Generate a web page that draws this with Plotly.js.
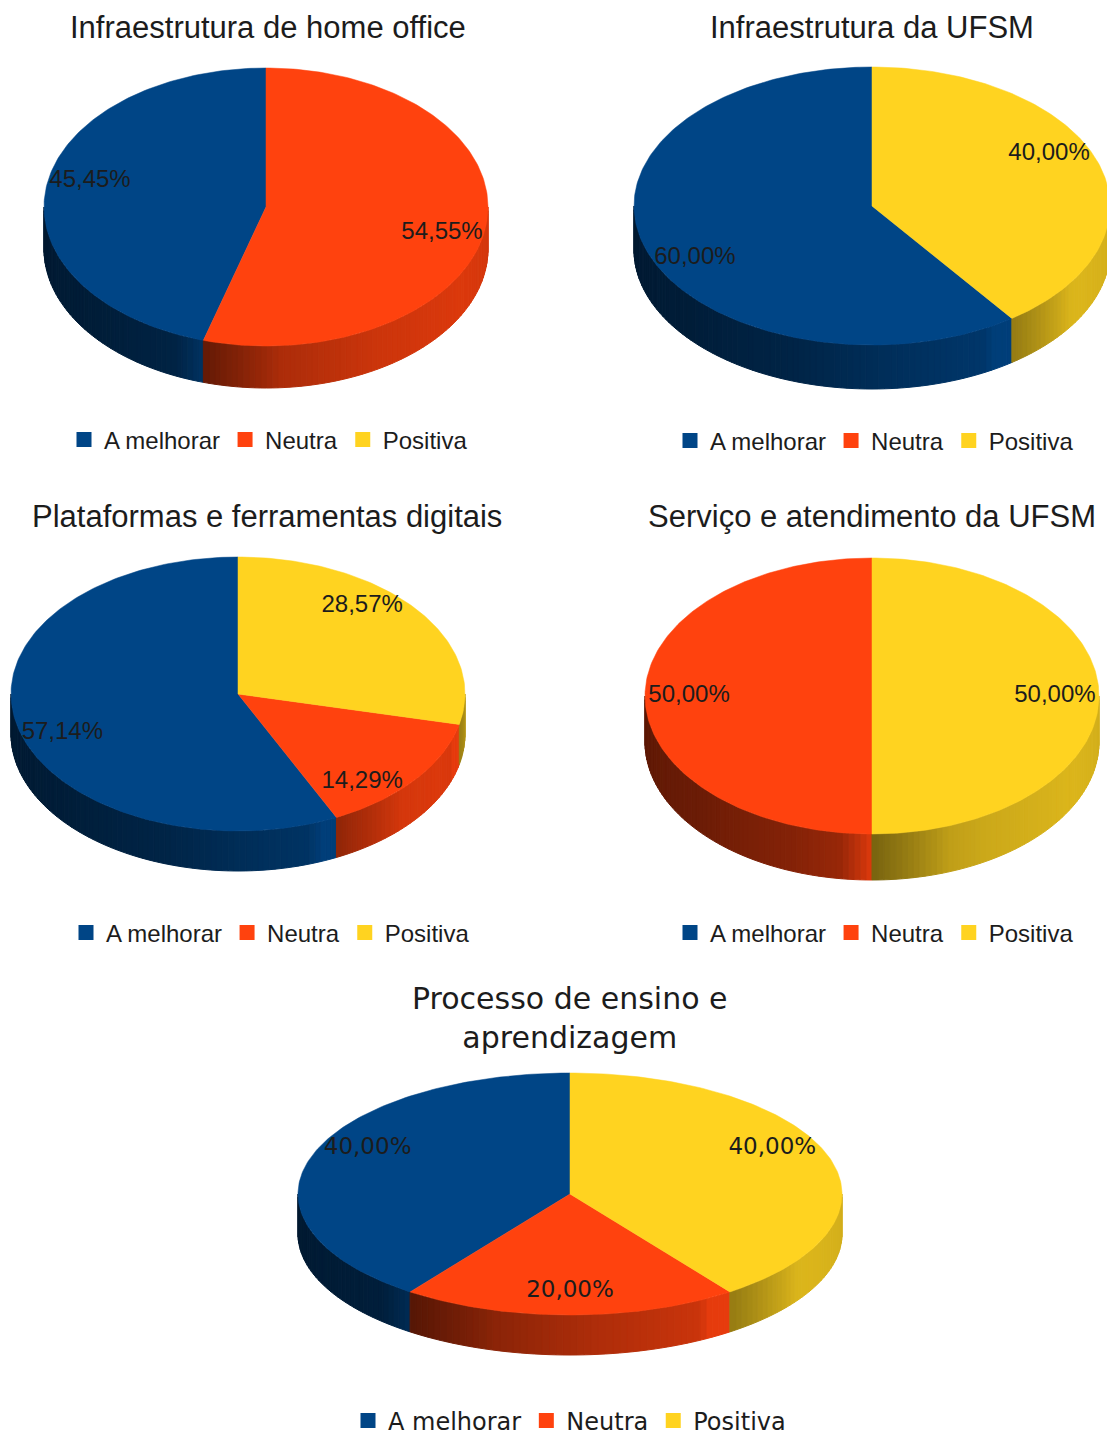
<!DOCTYPE html>
<html>
<head>
<meta charset="utf-8">
<script src="https://cdn.plot.ly/plotly-3.0.1.min.js"></script>
<style>
html,body{margin:0;padding:0;background:#fff;width:1107px;height:1437px;overflow:hidden;}
#chart{position:absolute;left:0;top:0;width:1107px;height:1437px;}
</style>
</head>
<body>
<div id="chart"></div>
<script>
// ---------------- DATA ----------------
const categories = ['A melhorar', 'Neutra', 'Positiva'];
const chartTitles = [
  'Infraestrutura de home office',
  'Infraestrutura da UFSM',
  'Plataformas e ferramentas digitais',
  'Serviço e atendimento da UFSM',
  'Processo de ensino e<br>aprendizagem'
];
const valuesHomeOffice   = [45.45, 54.55, 0];
const valuesInfraUFSM    = [60.00, 0, 40.00];
const valuesPlataformas  = [57.14, 14.29, 28.57];
const valuesServico      = [0, 50.00, 50.00];
const valuesEnsino       = [40.00, 20.00, 40.00];

// ---------------- STYLE / LAYOUT ----------------
const colors = ['#004586', '#ff420e', '#ffd320'];
const geom = [
  {cx: 266, cy: 207, rx: 222, ry: 139, depth: 42, font: 'Liberation Sans', titleSize: 31, titleY: 27,   legX: 64,  legY: 440,  labelSize: 24},
  {cx: 872, cy: 206, rx: 238, ry: 139, depth: 44, font: 'Liberation Sans', titleSize: 31, titleY: 27,   legX: 670, legY: 441,  labelSize: 24},
  {cx: 238, cy: 694, rx: 227, ry: 137, depth: 40, font: 'Liberation Sans', titleSize: 31, titleY: 516,  legX: 66,  legY: 933,  labelSize: 24},
  {cx: 872, cy: 696, rx: 227, ry: 138, depth: 46, font: 'Liberation Sans', titleSize: 31, titleY: 516,  legX: 670, legY: 933,  labelSize: 24},
  {cx: 570, cy: 1194, rx: 272, ry: 121, depth: 40, font: 'DejaVu Sans',   titleSize: 30, titleY: 1018, legX: 348, legY: 1421, labelSize: 23}
];
const titleX = [268, 872, 267, 872, 570];
const allValues = [valuesHomeOffice, valuesInfraUFSM, valuesPlataformas, valuesServico, valuesEnsino];
const W = 1107, H = 1437;
const textColor = '#1c1c1c';

function hexToRgb(h) { return [parseInt(h.substr(1,2),16), parseInt(h.substr(3,2),16), parseInt(h.substr(5,2),16)]; }
function shadeColor(h, f) {
  const c = hexToRgb(h).map(v => Math.max(0, Math.min(255, Math.round(v * f))));
  return 'rgb(' + c.join(',') + ')';
}
// global lighting over the visible wall (angle clockwise from top)
const lightPts = [[90, 0.82], [120, 0.86], [150, 0.80], [175, 0.68], [200, 0.52], [230, 0.42], [270, 0.36]];
function light(t) {
  for (let i = 0; i < lightPts.length - 1; i++) {
    const [a, fa] = lightPts[i], [b, fb] = lightPts[i + 1];
    if (t >= a && t <= b) return fa + (fb - fa) * (t - a) / (b - a);
  }
  return 0.5;
}
const rad = d => d * Math.PI / 180;

const sideTraces = [], topTraces = [], labelTraces = [], legendTraces = [];
const annotations = [];

allValues.forEach((vals, k) => {
  const g = geom[k];
  const px = t => g.cx + g.rx * Math.sin(rad(t));
  const py = t => g.cy - g.ry * Math.cos(rad(t));
  let cum = 0;
  const lx = [], ly = [], lt = [];
  vals.forEach((v, i) => {
    const a1 = 360 - cum * 3.6;
    cum += v;
    const a0 = 360 - cum * 3.6;
    if (v <= 0) return;
    // top surface
    const xs = [g.cx], ys = [g.cy];
    const n = Math.max(2, Math.ceil(a1 - a0));
    for (let j = 0; j <= n; j++) {
      const t = a0 + (a1 - a0) * j / n;
      xs.push(px(t)); ys.push(py(t));
    }
    xs.push(g.cx); ys.push(g.cy);
    topTraces.push({
      type: 'scatter', mode: 'lines', x: xs, y: ys, fill: 'toself',
      fillcolor: colors[i], line: {color: colors[i], width: 0.5},
      hoverinfo: 'skip', showlegend: false
    });
    // side wall (front half only)
    const s0 = Math.max(a0, 90), s1 = Math.min(a1, 270);
    if (s1 > s0) {
      const m = Math.max(1, Math.ceil((s1 - s0) / 1.5));
      for (let j = 0; j < m; j++) {
        const t0 = s0 + (s1 - s0) * j / m, t1 = s0 + (s1 - s0) * (j + 1) / m;
        const tm = (t0 + t1) / 2;
        let f = light(tm);
        if (a1 < 270) { const d = a1 - tm; f *= 0.72 + 0.28 * Math.min(1, d / 20); }
        if (a0 > 90) { const d2 = tm - a0; if (d2 < 8) f = Math.min(0.9, f * (1 + 0.35 * (1 - d2 / 8))); }
        const col = shadeColor(colors[i], f);
        const sx = [px(t0), px(t1), px(t1), px(t0), px(t0)];
        const sy = [py(t0), py(t1), py(t1) + g.depth, py(t0) + g.depth, py(t0)];
        sideTraces.push({
          type: 'scatter', mode: 'lines', x: sx, y: sy, fill: 'toself',
          fillcolor: col, line: {color: col, width: 1},
          hoverinfo: 'skip', showlegend: false
        });
      }
    }
    // label
    const tmid = (a0 + a1) / 2;
    const c = Math.cos(rad(tmid)), s = Math.sin(rad(tmid));
    const kx = Math.max(0.5, Math.min(0.81, 0.70 + 0.486 * (Math.abs(s) - 0.782)));
    lx.push(g.cx + kx * g.rx * s);
    ly.push(g.cy - g.ry * (1.4 * c - 0.6 * c * Math.abs(c)));
    lt.push(v.toFixed(2).replace('.', ',') + '%');
  });
  labelTraces.push({
    type: 'scatter', mode: 'text', x: lx, y: ly, text: lt, textposition: 'middle center',
    textfont: {family: g.font, size: g.labelSize, color: textColor},
    hoverinfo: 'skip', showlegend: false, cliponaxis: false
  });
  const legName = k === 0 ? 'legend' : 'legend' + (k + 1);
  categories.forEach((cat, i) => {
    legendTraces.push({
      type: 'scatter', mode: 'markers', x: [null], y: [null], name: cat,
      marker: {symbol: 'square', size: 15, color: colors[i]},
      legend: legName, showlegend: true, hoverinfo: 'skip'
    });
  });
  annotations.push({
    xref: 'x', yref: 'y', x: titleX[k], y: g.titleY, text: chartTitles[k], showarrow: false,
    xanchor: 'center', yanchor: 'middle', align: 'center',
    font: {family: g.font, size: g.titleSize, color: textColor}
  });
});

const layout = {
  width: W, height: H, autosize: false,
  margin: {l: 0, r: 0, t: 0, b: 0, pad: 0, autoexpand: false},
  paper_bgcolor: '#ffffff', plot_bgcolor: '#ffffff',
  xaxis: {range: [0, W], visible: false, fixedrange: true},
  yaxis: {range: [H, 0], visible: false, fixedrange: true},
  annotations: annotations,
  showlegend: true
};
geom.forEach((g, k) => {
  const legName = k === 0 ? 'legend' : 'legend' + (k + 1);
  layout[legName] = {
    orientation: 'h', x: g.legX / W, y: 1 - g.legY / H, xanchor: 'left', yanchor: 'middle',
    bgcolor: 'rgba(0,0,0,0)', borderwidth: 0, itemwidth: 30, itemclick: false, itemdoubleclick: false,
    font: {family: g.font, size: 24, color: textColor}
  };
});

Plotly.newPlot('chart', [].concat(sideTraces, topTraces, labelTraces, legendTraces), layout, {displayModeBar: false, staticPlot: true});
</script>
</body>
</html>
